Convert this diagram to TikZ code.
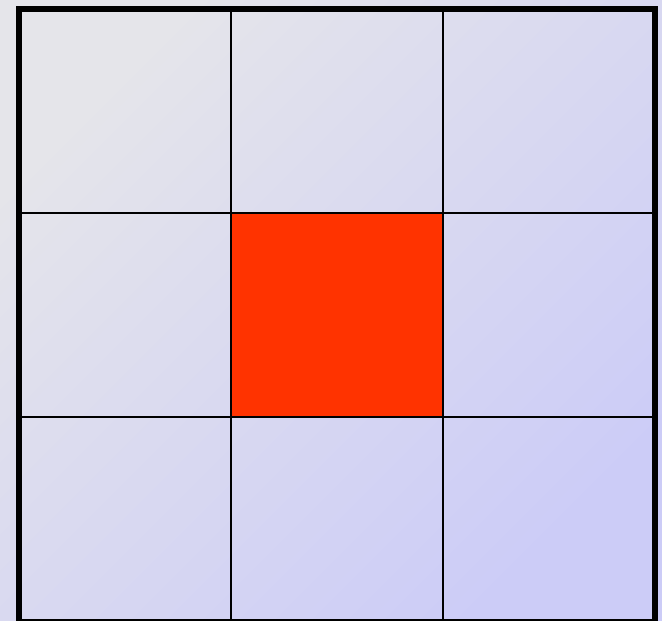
\documentclass[tikz,border=0pt]{standalone}
\usepackage{tikz}
\definecolor{gridtop}{RGB}{229, 229, 234}
\definecolor{gridbot}{RGB}{204, 204, 247}
\definecolor{hotred}{RGB}{255, 51, 0}

\begin{document}
\begin{tikzpicture}[x=1pt, y=-1pt,
    gridline/.style={black, line width=2.2pt},
    frame/.style={black, line width=6pt},
    centre/.style={fill=hotred}
  ]
    \clip (0,0) rectangle (662,621);
    % background
    \shade[top color=gridtop, bottom color=gridbot, shading angle=45] (0,0) rectangle (662,621);
    % middle cell
    \fill[centre] (231,213) rectangle (443,417);
    % inner lines
    \foreach \x in {231,443}
      \draw[gridline] (\x,9) -- (\x,622);
    \foreach \y in {213,417}
      \draw[gridline] (19,\y) -- (655,\y);
    % outer frame
    \draw[frame] (19,9) rectangle (655,622);
  \end{tikzpicture}
\end{document}
